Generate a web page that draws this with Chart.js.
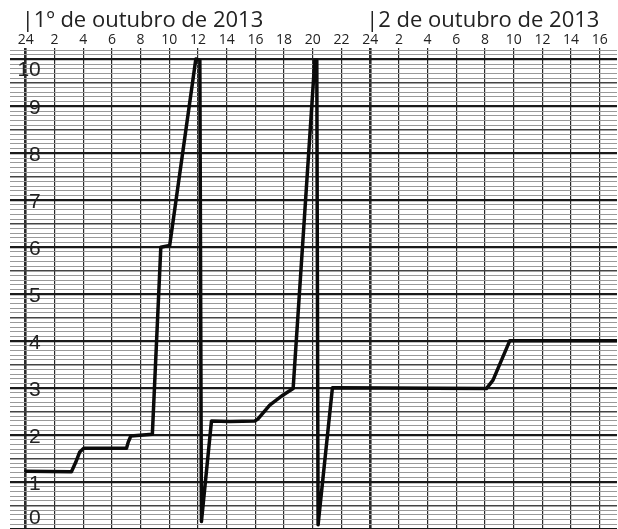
<!DOCTYPE html>
<html>
<head>
<meta charset="utf-8">
<script src="https://cdn.jsdelivr.net/npm/chart.js@4"></script>
<style>
  html, body { margin: 0; padding: 0; background: #ffffff; }
  #wrap { width: 618px; height: 529px; position: relative; }
</style>
</head>
<body>
<div id="wrap"><canvas id="c"></canvas></div>
<script>
// Hours since midnight (start of 1 October 2013)
const hours  = [0, 3.18, 3.48, 3.76, 4.04, 7.02, 7.14, 7.32, 8.82, 9.41, 10.03, 11.85, 12.13, 12.24, 12.94, 14.22, 15.96, 16.17, 17.0, 17.91, 18.63, 20.14, 20.28, 20.37, 21.37, 32.1, 32.56, 33.73, 41.2];
// Recorded level
const levels = [1.23, 1.22, 1.42, 1.64, 1.72, 1.72, 1.85, 1.98, 2.02, 6.0, 6.04, 10.01, 9.98, 0.16, 2.30, 2.29, 2.30, 2.34, 2.64, 2.85, 2.99, 9.98, 9.98, 0.09, 3.01, 2.99, 3.17, 4.01, 4.01];

const hourTicks  = [0, 2, 4, 6, 8, 10, 12, 14, 16, 18, 20, 22, 24, 26, 28, 30, 32, 34, 36, 38, 40];
const hourLabels = ['24', '2', '4', '6', '8', '10', '12', '14', '16', '18', '20', '22', '24', '2', '4', '6', '8', '10', '12', '14', '16'];
const levelLabels = ['0', '1', '2', '3', '4', '5', '6', '7', '8', '9', '10'];
const dayStarts = [0, 24];
const dayTitles = ['|1º de outubro de 2013', '|2 de outubro de 2013'];

const points = hours.map((h, i) => ({ x: h, y: levels[i] }));

const overlay = {
  id: 'overlay',
  afterDraw(chart) {
    const ctx = chart.ctx;
    const xs = chart.scales.x, ys = chart.scales.y;
    const area = chart.chartArea;
    ctx.save();
    // day headers
    ctx.fillStyle = '#222';
    ctx.font = '22px "Open Sans"';
    ctx.textAlign = 'left';
    ctx.textBaseline = 'alphabetic';
    dayStarts.forEach((d, i) => {
      ctx.fillText(dayTitles[i], xs.getPixelForValue(d) - 4, 27);
    });
    // level labels inside plot
    ctx.font = '21px "Liberation Sans"';
    ctx.textAlign = 'right';
    ctx.textBaseline = 'middle';
    ctx.fillStyle = '#222';
    const xr = xs.getPixelForValue(0) + 15;
    levelLabels.forEach(l => {
      let y = ys.getPixelForValue(Number(l)) + 2;
      y = Math.min(Math.max(y, area.top + 20), area.bottom - 11);
      ctx.fillText(l, xr, y);
    });
    ctx.restore();
  }
};

new Chart(document.getElementById('c'), {
  type: 'line',
  data: {
    datasets: [{
      data: points,
      borderColor: '#0a0a0a',
      borderWidth: 3.5,
      pointRadius: 0,
      tension: 0,
      borderJoinStyle: 'round',
      borderCapStyle: 'round',
      fill: false
    }]
  },
  options: {
    responsive: true,
    maintainAspectRatio: false,
    animation: false,
    layout: { padding: { left: 10, right: 1, top: 0, bottom: 0 } },
    plugins: { legend: { display: false }, tooltip: { enabled: false } },
    scales: {
      x: {
        type: 'linear',
        position: 'top',
        min: -1.1,
        max: 41.2,
        afterBuildTicks: s => { s.ticks = hourTicks.map(v => ({ value: v })); },
        afterFit: s => { s.height = 50; },
        border: { display: false },
        grid: {
          color: '#2a2a2a',
          lineWidth: c => (c.tick && c.tick.value % 24 === 0) ? 2.6 : 1.2,
          drawTicks: true,
          tickLength: 2
        },
        ticks: {
          autoSkip: false,
          maxRotation: 0,
          padding: 0,
          color: '#222',
          font: { family: 'Open Sans', size: 14 },
          callback: v => hourLabels[hourTicks.indexOf(v)]
        }
      },
      y: {
        type: 'linear',
        min: 0,
        max: 10.2,
        afterBuildTicks: s => {
          const t = [];
          for (let i = 0; i <= 102; i++) t.push({ value: i / 10 });
          s.ticks = t;
        },
        afterFit: s => { s.width = 0; },
        border: { display: false },
        grid: {
          drawTicks: false,
          color: c => {
            const i = Math.round(c.tick.value * 10);
            return i % 10 === 0 ? '#1a1a1a' : (i % 5 === 0 ? '#444' : '#999');
          },
          lineWidth: c => {
            const i = Math.round(c.tick.value * 10);
            return i % 10 === 0 ? 2.2 : (i % 5 === 0 ? 1.5 : 1);
          }
        },
        ticks: { display: false }
      }
    }
  },
  plugins: [overlay]
});
</script>
</body>
</html>
